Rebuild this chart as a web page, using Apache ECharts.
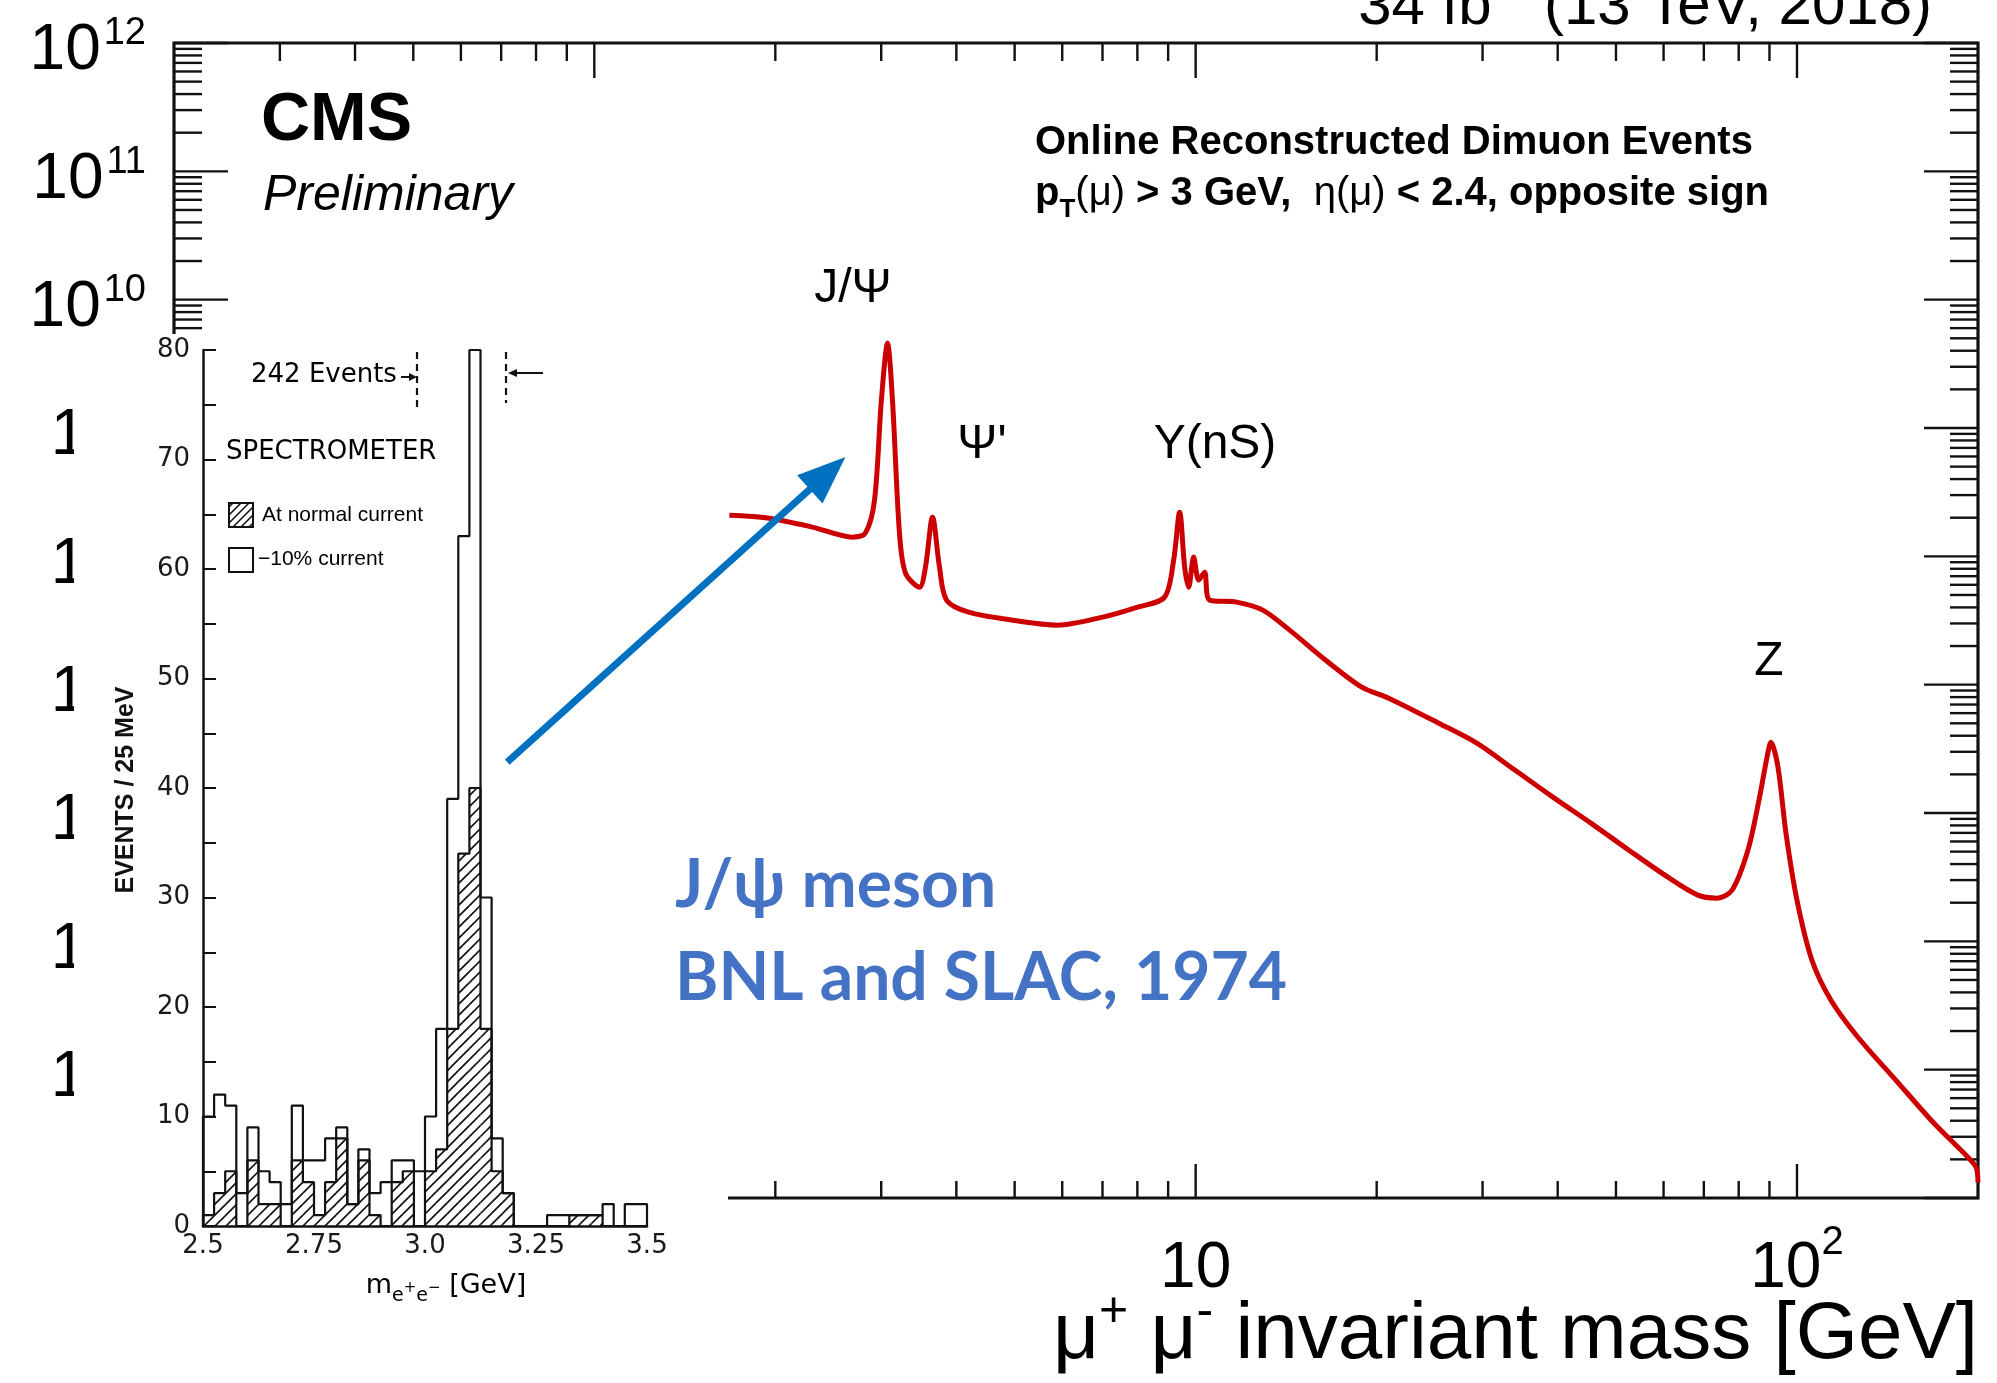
<!DOCTYPE html>
<html><head><meta charset="utf-8">
<script src="https://cdn.jsdelivr.net/npm/echarts@6/dist/echarts.min.js"></script>
<style>html,body{margin:0;padding:0;background:#fff}#c{width:1997px;height:1383px}</style>
</head><body><div id="c"></div>
<script>
// ================= DATA =================
// CMS online dimuon spectrum
const MASS_GEV = [1.677,1.941,2.305,2.688,2.824,2.924,3.002,3.073,3.132,3.217,3.292,3.474,3.554,3.651,3.750,3.852,4.192,4.961,5.893,7.003,8.009,8.879,9.192,9.406,9.588,9.736,9.924,10.116,10.35,10.55,11.70,12.93,14.33,16.46,18.89,20.95,25.37,29.35,33.95,39.27,45.42,52.54,61.01,68.44,73.61,77.97,82.87,86.47,89.16,90.5,92.98,95.87,100,105.9,113.9,126.3,146.1,169.0,192.6,198.6,200];
const EVENTS = [2.09e8,1.99e8,1.69e8,1.41e8,1.52e8,2.74e8,1.65e9,4.59e9,1.65e9,1.52e8,7.40e7,5.75e7,8.24e7,2.02e8,8.24e7,4.56e7,3.67e7,3.18e7,2.91e7,3.36e7,4.02e7,4.81e7,9.33e7,2.21e8,8.24e7,5.75e7,9.86e7,6.53e7,7.53e7,4.56e7,4.40e7,3.81e7,2.66e7,1.55e7,9.57e6,7.85e6,5.01e6,3.50e6,2.16e6,1.33e6,8.34e5,5.13e5,3.16e5,2.29e5,2.17e5,2.50e5,5.13e5,1.26e6,2.72e6,3.56e6,2.28e6,6.97e5,2.09e5,7.13e4,3.48e4,1.79e4,8.26e3,3.82e3,2.07e3,1.73e3,1.32e3];
// axis ranges & ticks
const XMIN = 0.2, XMAX = 200, YMIN = 1e3, YMAX = 1e12;
const MASS_MAJOR_TICKS = [1, 10, 100];
const MASS_MINOR_TICKS = [0.3,0.4,0.5,0.6,0.7,0.8,0.9,2,3,4,5,6,7,8,9,20,30,40,50,60,70,80,90];
const MASS_LABEL_VALUES = [10, 100];
const MASS_LABEL_BASE = ['10', '10'];
const MASS_LABEL_EXP = ['', '2'];
const EVENTS_DECADES = [1e3,1e4,1e5,1e6,1e7,1e8,1e9,1e10,1e11,1e12];
const EVENTS_LABEL_VALUES = [1e4,1e5,1e6,1e7,1e8,1e9,1e10,1e11,1e12];
const EVENTS_LABEL_EXP = ['4','5','6','7','8','9','10','11','12'];
const EVENTS_MINOR_MULT = [2,3,4,5,6,7,8,9];
// annotation arrow (tail -> tip), in data coordinates of the CMS axes
const ARROW_MASS = [0.7165, 2.616];
const ARROW_EVENTS = [2.49e6, 5.93e8];
// 1974 spectrometer histogram, 25 MeV bins
const BIN_LO = [2.5,2.525,2.55,2.575,2.6,2.625,2.65,2.675,2.7,2.725,2.75,2.775,2.8,2.825,2.85,2.875,2.9,2.925,2.95,2.975,3.0,3.025,3.05,3.075,3.1,3.125,3.15,3.175,3.2,3.225,3.25,3.275,3.3,3.325,3.35,3.375,3.4,3.425,3.45,3.475];
const BIN_WIDTH = 0.025;
const OPEN_COUNTS   = [10,12,11,3,9,5,4,2,11,6,6,8,9,2,7,3,4,6,6,5,10,18,39,63,80,30,8,3,0,0,0,1,1,1,1,1,2,0,2,2];
const HATCHED_COUNTS= [1,3,5,0,6,2,2,0,6,4,1,4,8,2,6,1,0,4,5,0,5,7,18,34,40,18,5,3,0,0,0,0,0,1,1,1,0,0,0,0];
const INSET_X_LABELS = ['2.5','2.75','3.0','3.25','3.5'];

// ================= HELPERS =================
const LIB = "'Liberation Sans', Arial, Helvetica, sans-serif";
const DJV = "'DejaVu Sans', sans-serif";
const LATO = "Lato, 'Open Sans', sans-serif";
const mctx = document.createElement('canvas').getContext('2d');
function fontStr(p){ return (p.style||'normal')+' '+(p.weight||'normal')+' '+p.size+'px '+(p.family||LIB); }
function measure(t,p){ mctx.font = fontStr(p); return mctx.measureText(t).width; }
function runText(x, baseline, parts, anchor, z){
  let total = 0;
  parts.forEach(p=>{ total += measure(p.t,p) + (p.gap||0); });
  let cx = anchor==='right' ? x-total : (anchor==='center' ? x-total/2 : x);
  const els = [];
  parts.forEach(p=>{
    const w = measure(p.t,p);
    const mid = (p.mid!=null?p.mid:0.35)*p.size;
    const el = {type:'text', silent:true, style:{text:p.t, x:cx, y: baseline+(p.dy||0)-mid, font:fontStr(p), fill:p.fill||'#000',
      align:'left', verticalAlign:'middle', textAlign:'left', textVerticalAlign:'middle'}};
    if (z!=null) el.z = z;
    els.push(el);
    cx += w + (p.gap||0);
  });
  return els;
}
function hatchLines(xa, ya, xb, yb, step, color, lw){
  const out = [];
  const c0 = Math.ceil((xa+ya)/step), c1 = Math.floor((xb+yb)/step);
  for (let k=c0;k<=c1;k++){
    const c = k*step;
    const x1 = Math.max(xa, c-yb), x2 = Math.min(xb, c-ya);
    if (x2 > x1) out.push({type:'line', shape:{x1:x1,y1:c-x1,x2:x2,y2:c-x2}, style:{stroke:color,lineWidth:lw}});
  }
  return out;
}
function stepPoints(counts){
  const pts = [[BIN_LO[0],0]];
  counts.forEach((v,i)=>pts.push([BIN_LO[i], v]));
  const last = BIN_LO[BIN_LO.length-1]+BIN_WIDTH;
  pts.push([last, counts[counts.length-1]]);
  pts.push([last, 0]);
  return pts;
}

// ================= CHART =================
const chart = echarts.init(document.getElementById('c'));
const INK = '#111';

const xTickData = MASS_MAJOR_TICKS.map(v=>[v,YMIN,1]).concat(MASS_MINOR_TICKS.map(v=>[v,YMIN,0]));
const yTickData = [];
EVENTS_DECADES.forEach(d=>{
  yTickData.push([XMIN,d,1]);
  if (d<YMAX) EVENTS_MINOR_MULT.forEach(m=>yTickData.push([XMIN,d*m,0]));
});

const graphics = [];
// white box of the inset picture
graphics.push({type:'rect', z:10, silent:true, shape:{x:74,y:334,width:654,height:1049}, style:{fill:'#fff'}});
// CMS texts
graphics.push(...runText(1932, 28, [{t:'34 fb',size:60},{t:'-1',size:40,dy:-27},{t:' (13 TeV, 2018)',size:60}], 'right', 30));
graphics.push(...runText(261, 145, [{t:'CMS',size:68,weight:'bold'}], 'left', 30));
graphics.push(...runText(263, 214, [{t:'Preliminary',size:50,style:'italic'}], 'left', 30));
graphics.push(...runText(1035, 157, [{t:'Online Reconstructed Dimuon Events',size:40,weight:'bold'}], 'left', 30));
graphics.push(...runText(1035, 208, [
  {t:'p',size:40,weight:'bold'},{t:'T',size:26,weight:'bold',dy:11},{t:'(\u03bc)',size:40},
  {t:' > 3 GeV,  ',size:40,weight:'bold'},{t:'\u03b7(\u03bc)',size:40},{t:' < 2.4, opposite sign',size:40,weight:'bold'}], 'left', 30));
graphics.push(...runText(853, 306, [{t:'J/\u03a8',size:48}], 'center', 30));
graphics.push(...runText(982, 462, [{t:"\u03a8'",size:48}], 'center', 30));
graphics.push(...runText(1215, 462, [{t:'\u03a5(nS)',size:48}], 'center', 30));
graphics.push(...runText(1769, 679, [{t:'Z',size:48}], 'center', 30));
graphics.push(...runText(1978, 1364, [{t:'\u03bc',size:80},{t:'+',size:50,dy:-34},{t:' \u03bc',size:80},{t:'-',size:50,dy:-34},{t:' invariant mass [GeV]',size:80}], 'right', 30));
// blue annotation
graphics.push(...runText(675, 911, [{t:'J/\u03c8 meson',size:66,weight:'bold',family:LATO,fill:'#4472C4',mid:0.38}], 'left', 30));
graphics.push(...runText(675, 1004, [{t:'BNL and SLAC, 1974',size:66,weight:'bold',family:LATO,fill:'#4472C4',mid:0.38}], 'left', 30));
// inset annotations
graphics.push(...runText(251, 384, [{t:'242 Events',size:26,family:DJV}], 'left', 30));
graphics.push({type:'line', z:30, silent:true, shape:{x1:401,y1:377,x2:413,y2:377}, style:{stroke:INK,lineWidth:2}});
graphics.push({type:'polygon', z:30, silent:true, shape:{points:[[417,377],[409,373],[409,381]]}, style:{fill:INK}});
graphics.push({type:'line', z:30, silent:true, shape:{x1:417,y1:352,x2:417,y2:410}, style:{stroke:INK,lineWidth:2.2,lineDash:[7,5]}});
graphics.push({type:'line', z:30, silent:true, shape:{x1:506,y1:352,x2:506,y2:403}, style:{stroke:INK,lineWidth:2.2,lineDash:[7,5]}});
graphics.push({type:'line', z:30, silent:true, shape:{x1:512,y1:373,x2:543,y2:373}, style:{stroke:INK,lineWidth:2}});
graphics.push({type:'polygon', z:30, silent:true, shape:{points:[[508,373],[517,369],[517,377]]}, style:{fill:INK}});
graphics.push(...runText(226, 461, [{t:'SPECTROMETER',size:26,family:DJV}], 'left', 30));
graphics.push({type:'rect', z:30, silent:true, shape:{x:229,y:503,width:24,height:24}, style:{fill:'none',stroke:INK,lineWidth:2}});
hatchLines(229,503,253,527,8,INK,1.6).forEach(l=>{l.z=30;l.silent=true;graphics.push(l);});
graphics.push(...runText(262, 523, [{t:'At normal current',size:21}], 'left', 30));
graphics.push({type:'rect', z:30, silent:true, shape:{x:229,y:548,width:24,height:24}, style:{fill:'none',stroke:INK,lineWidth:2}});
graphics.push(...runText(258, 567, [{t:'\u221210% current',size:21}], 'left', 30));
graphics.push(...runText(446, 1295, [{t:'m',size:27,family:DJV},{t:'e',size:19,family:DJV,dy:8},{t:'+',size:15,family:DJV,dy:-2},
  {t:'e',size:19,family:DJV,dy:8},{t:'\u2212',size:15,family:DJV,dy:-2},{t:' [GeV]',size:27,family:DJV}], 'center', 30));
graphics.push({type:'text', z:30, silent:true, x:126, y:790, rotation:Math.PI/2,
  style:{text:'EVENTS / 25 MeV', x:0, y:0, font:"bold 25px "+LIB, fill:INK, align:'center', verticalAlign:'middle', textAlign:'center', textVerticalAlign:'middle'}});

const option = {
  backgroundColor:'#fff',
  animation:false,
  grid:[
    {left:174, top:43, width:1804, height:1155},
    {left:203, top:350, width:444, height:876}
  ],
  xAxis:[
    {type:'log', logBase:10, min:XMIN, max:XMAX, gridIndex:0, show:false},
    {type:'value', gridIndex:1, min:2.5, max:3.5, interval:0.25, z:25,
      axisLine:{lineStyle:{color:INK,width:2.5}}, axisTick:{show:false}, splitLine:{show:false},
      axisLabel:{margin:7, color:'#1a1a1a', fontFamily:DJV, fontSize:26,
        formatter:(v)=>{const i=Math.round((v-2.5)/0.25); return INSET_X_LABELS[i]||'';}}}
  ],
  yAxis:[
    {type:'log', logBase:10, min:YMIN, max:YMAX, gridIndex:0, show:false},
    {type:'value', gridIndex:1, min:0, max:80, interval:10, z:25,
      axisLine:{show:true, lineStyle:{color:INK,width:2.5}},
      axisTick:{show:true, inside:true, length:13, lineStyle:{color:INK,width:2}},
      minorTick:{show:true, splitNumber:2, length:13, lineStyle:{color:INK,width:2}},
      splitLine:{show:false},
      axisLabel:{margin:13, color:'#1a1a1a', fontFamily:DJV, fontSize:26}}
  ],
  graphic:{elements:graphics},
  series:[
    // frame
    {type:'custom', xAxisIndex:0, yAxisIndex:0, z:3, silent:true, data:[[XMIN,YMIN]],
      renderItem:(params,api)=>{
        const a = api.coord([XMIN,YMAX]), b = api.coord([XMAX,YMIN]);
        return {type:'rect', shape:{x:a[0],y:a[1],width:b[0]-a[0],height:b[1]-a[1]}, style:{fill:'none',stroke:INK,lineWidth:3.2}};
      }},
    // x ticks (top & bottom)
    {type:'custom', xAxisIndex:0, yAxisIndex:0, z:3, silent:true, data:xTickData,
      renderItem:(params,api)=>{
        const v = api.value(0), major = api.value(2);
        const pb = api.coord([v,YMIN]), pt = api.coord([v,YMAX]);
        const lb = major?34:17, lt = major?35:18;
        return {type:'group', children:[
          {type:'line', shape:{x1:pb[0],y1:pb[1],x2:pb[0],y2:pb[1]-lb}, style:{stroke:INK,lineWidth:2.4}},
          {type:'line', shape:{x1:pt[0],y1:pt[1],x2:pt[0],y2:pt[1]+lt}, style:{stroke:INK,lineWidth:2.4}}]};
      }},
    // y ticks (left & right)
    {type:'custom', xAxisIndex:0, yAxisIndex:0, z:3, silent:true, data:yTickData,
      renderItem:(params,api)=>{
        const v = api.value(1), major = api.value(2);
        const pl = api.coord([XMIN,v]), pr = api.coord([XMAX,v]);
        const L = major?54:28;
        return {type:'group', children:[
          {type:'line', shape:{x1:pl[0],y1:pl[1],x2:pl[0]+L,y2:pl[1]}, style:{stroke:INK,lineWidth:2.4}},
          {type:'line', shape:{x1:pr[0],y1:pr[1],x2:pr[0]-L,y2:pr[1]}, style:{stroke:INK,lineWidth:2.4}}]};
      }},
    // x labels
    {type:'custom', xAxisIndex:0, yAxisIndex:0, z:3, silent:true, data:MASS_LABEL_VALUES.map(v=>[v,YMIN]),
      renderItem:(params,api)=>{
        const i = params.dataIndex, p = api.coord([api.value(0),YMIN]);
        const parts = [{t:MASS_LABEL_BASE[i],size:64}];
        if (MASS_LABEL_EXP[i]) parts.push({t:MASS_LABEL_EXP[i],size:40,dy:-35});
        return {type:'group', children: runText(p[0], p[1]+94, parts, 'center')};
      }},
    // y labels
    {type:'custom', xAxisIndex:0, yAxisIndex:0, z:3, silent:true, data:EVENTS_LABEL_VALUES.map(v=>[XMIN,v]),
      renderItem:(params,api)=>{
        const i = params.dataIndex, p = api.coord([XMIN,api.value(1)]);
        const right = p[0]-28, exp = EVENTS_LABEL_EXP[i];
        const sp = {t:exp,size:38};
        const w = measure(exp, sp);
        return {type:'group', children: runText(right-w-3, p[1]+31, [{t:'10',size:64}], 'right')
          .concat(runText(right, p[1]+4, [sp], 'right'))};
      }},
    // CMS dimuon curve
    {type:'line', xAxisIndex:0, yAxisIndex:0, z:4, silent:true, showSymbol:false, smooth:0.3,
      data: MASS_GEV.map((m,i)=>[m,EVENTS[i]]),
      lineStyle:{color:'#cc0000', width:5}},
    // blue arrow
    {type:'custom', xAxisIndex:0, yAxisIndex:0, z:30, silent:true,
      data:[[ARROW_MASS[0],ARROW_EVENTS[0],ARROW_MASS[1],ARROW_EVENTS[1]]], encode:{x:[0,2], y:[1,3]},
      renderItem:(params,api)=>{
        const a = api.coord([api.value(0),api.value(1)]), b = api.coord([api.value(2),api.value(3)]);
        const dx=b[0]-a[0], dy=b[1]-a[1], L=Math.hypot(dx,dy), ux=dx/L, uy=dy/L, nx=-uy, ny=ux;
        const hl=48, hw=19, bx=b[0]-ux*hl, by=b[1]-uy*hl;
        return {type:'group', children:[
          {type:'line', shape:{x1:a[0],y1:a[1],x2:bx+ux*4,y2:by+uy*4}, style:{stroke:'#0070C0',lineWidth:7}},
          {type:'polygon', shape:{points:[[b[0],b[1]],[bx+nx*hw,by+ny*hw],[bx-nx*hw,by-ny*hw]]}, style:{fill:'#0070C0'}}]};
      }},
    // inset: hatched fill
    {type:'custom', xAxisIndex:1, yAxisIndex:1, z:21, silent:true,
      data: BIN_LO.map((lo,i)=>[lo, lo+BIN_WIDTH, HATCHED_COUNTS[i]]),
      encode:{x:[0,1], y:2},
      renderItem:(params,api)=>{
        const h = api.value(2); if (!(h>0)) return;
        const p0 = api.coord([api.value(0),0]), p1 = api.coord([api.value(1),h]);
        return {type:'group', children: hatchLines(p0[0], p1[1], p1[0], p0[1], 11, INK, 1.7)};
      }},
    // inset: hatched outline
    {type:'line', xAxisIndex:1, yAxisIndex:1, z:22, silent:true, step:'end', showSymbol:false,
      data: stepPoints(HATCHED_COUNTS), lineStyle:{color:INK,width:2.2}},
    // inset: open outline (-10% current)
    {type:'line', xAxisIndex:1, yAxisIndex:1, z:22, silent:true, step:'end', showSymbol:false,
      data: stepPoints(OPEN_COUNTS), lineStyle:{color:INK,width:2.2}}
  ]
};
chart.setOption(option);
</script>
</body></html>
